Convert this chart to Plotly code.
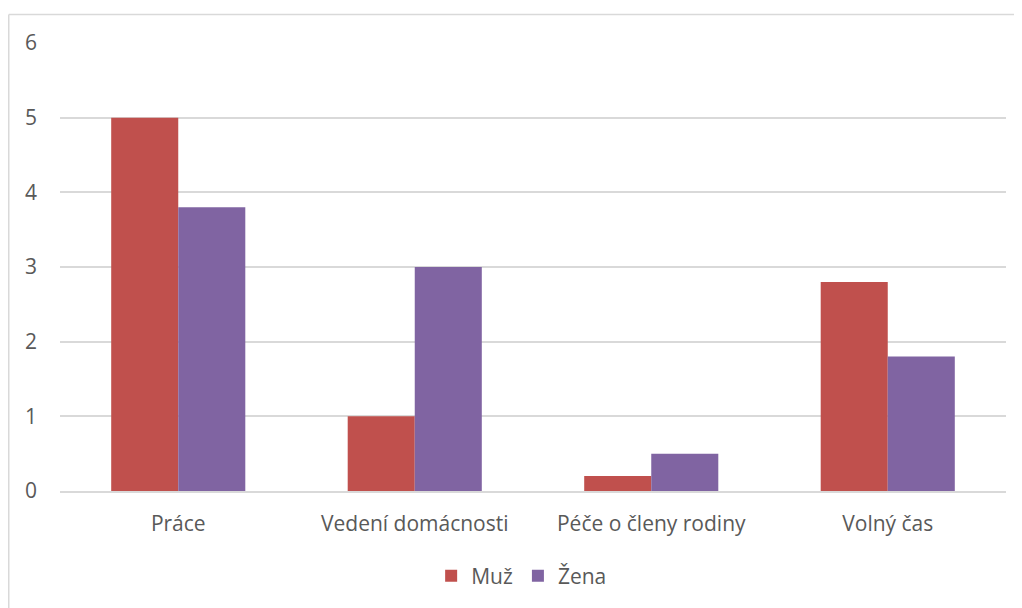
import plotly.graph_objects as go

categories = ["Práce", "Vedení domácnosti", "Péče o členy rodiny", "Volný čas"]
muz = [5, 1, 0.2, 2.8]
zena = [3.8, 3, 0.5, 1.8]
series_names = ["Muž", "Žena"]
colors = ["#C0504D", "#8064A2"]

W, H = 1022, 608
L, R, T, B = 52, 24, 35, 125
pw = W - L - R
ph = H - T - B

fig = go.Figure()
for name, vals, c in zip(series_names, [muz, zena], colors):
    fig.add_trace(go.Bar(x=categories, y=vals, name=name, marker=dict(color=c, line=dict(width=0))))

font_fam = "Open Sans"
fig.update_layout(
    width=W, height=H,
    margin=dict(l=L, r=R, t=T, b=B, autoexpand=False),
    paper_bgcolor="white", plot_bgcolor="white",
    barmode="group", bargap=0.433, bargroupgap=0,
    font=dict(family=font_fam, color="#595959", size=21),
    xaxis=dict(showgrid=False, showline=True, linecolor="#D9D9D9", linewidth=1.5,
               ticks="", tickfont=dict(size=21), ticklabelstandoff=13),
    yaxis=dict(range=[0, 6], dtick=1, showgrid=True, gridcolor="#D9D9D9", gridwidth=1.5,
               zeroline=False, showline=False, ticks="", tickfont=dict(size=21),
               ticklabelstandoff=22),
    legend=dict(orientation="h", x=0.488, xanchor="center", y=-0.19, yanchor="middle",
                font=dict(size=21), itemwidth=30, traceorder="normal"),
    showlegend=True,
)
# chart area border (left and top)
x_left = (0.75 - L) / pw
y_top = 1 + (T - 6.5) / ph
fig.add_shape(type="line", xref="paper", yref="paper", x0=x_left, x1=x_left, y0=y_top, y1=-(B + 5) / ph,
              line=dict(color="#D9D9D9", width=1.5))
fig.add_shape(type="line", xref="paper", yref="paper", x0=x_left, x1=(W + 5 - L) / pw, y0=y_top, y1=y_top,
              line=dict(color="#D9D9D9", width=1.5))

fig.write_html("out.html")
